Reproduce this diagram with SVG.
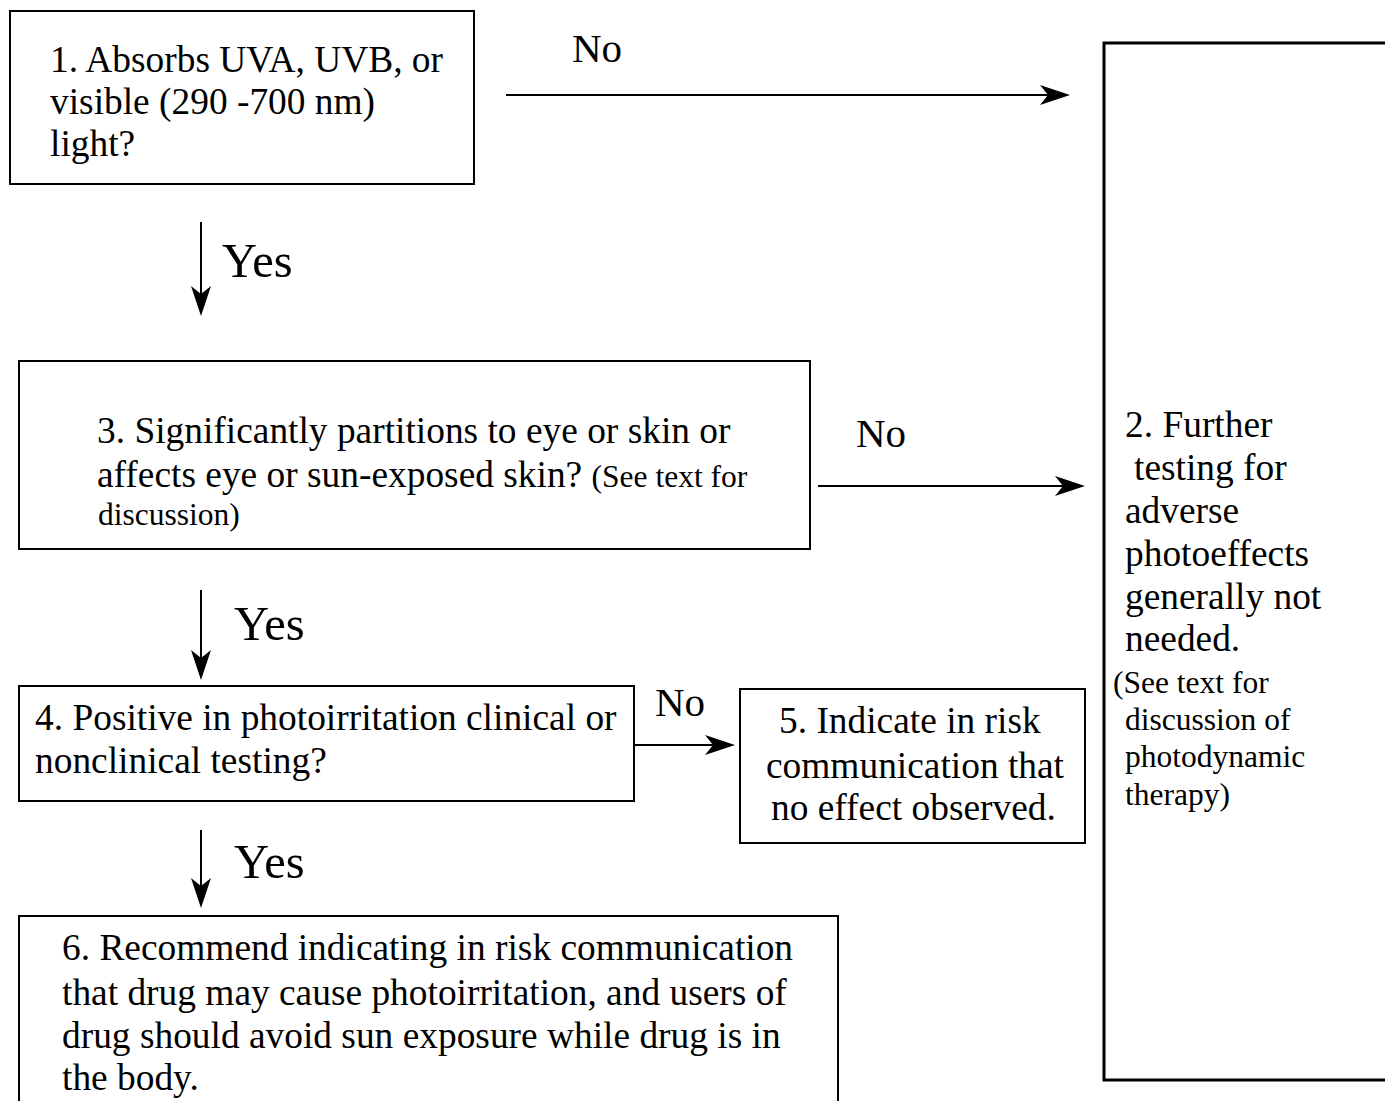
<svg xmlns="http://www.w3.org/2000/svg" width="1385" height="1101" viewBox="0 0 1385 1101">
<style>
.box{fill:#fff;stroke:#000;stroke-width:2}
.big{stroke-width:3}
.t{font-family:"Liberation Serif","Times New Roman",serif;font-size:37.4px;fill:#000}
.s{font-size:31.5px}
.lbl{font-family:"Liberation Serif","Times New Roman",serif;font-size:41px;fill:#000}
.yes{font-size:48.5px}
.c{fill:none;stroke:#000;stroke-width:2}
</style>
<defs>
<marker id="ah" markerUnits="userSpaceOnUse" viewBox="0 0 30 20" markerWidth="30" markerHeight="20" refX="22" refY="10" orient="auto">
<path d="M0,0 L30,10 L0,20 L8,10 Z" fill="#000"/>
</marker>
</defs>
<rect width="1385" height="1101" fill="#fff"/>
<g id="connectors">
<line class="c" x1="506" y1="95" x2="1062" y2="95" marker-end="url(#ah)"/>
<line class="c" x1="201" y1="222" x2="201" y2="308" marker-end="url(#ah)"/>
<line class="c" x1="818" y1="486" x2="1077" y2="486" marker-end="url(#ah)"/>
<line class="c" x1="201" y1="590" x2="201" y2="672" marker-end="url(#ah)"/>
<line class="c" x1="634" y1="745" x2="727" y2="745" marker-end="url(#ah)"/>
<line class="c" x1="201" y1="830" x2="201" y2="900" marker-end="url(#ah)"/>
<text class="lbl" x="572" y="62">No</text>
<text class="lbl yes" x="222" y="277">Yes</text>
<text class="lbl" x="856" y="447">No</text>
<text class="lbl yes" x="234" y="640">Yes</text>
<text class="lbl" x="655" y="716">No</text>
<text class="lbl yes" x="234" y="878">Yes</text>
</g>
<g id="node1">
<rect class="box" x="10" y="11" width="464" height="173"/>
<text class="t" x="50" y="72">1. Absorbs UVA, UVB, or</text>
<text class="t" x="50" y="114">visible (290 -700 nm)</text>
<text class="t" x="50" y="156">light?</text>
</g>
<g id="node2">
<rect class="box big" x="1104" y="43" width="400" height="1037"/>
<text class="t" x="1125" y="437">2. Further</text>
<text class="t" x="1134" y="480">testing for</text>
<text class="t" x="1125" y="523">adverse</text>
<text class="t" x="1125" y="566">photoeffects</text>
<text class="t" x="1125" y="609">generally not</text>
<text class="t" x="1125" y="651">needed.</text>
<text class="t s" x="1113" y="693">(See text for</text>
<text class="t s" x="1125" y="730">discussion of</text>
<text class="t s" x="1125" y="767">photodynamic</text>
<text class="t s" x="1125" y="805">therapy)</text>
</g>
<g id="node3">
<rect class="box" x="19" y="361" width="791" height="188"/>
<text class="t" x="97" y="443">3. Significantly partitions to eye or skin or</text>
<text class="t" x="97" y="487">affects eye or sun-exposed skin? <tspan class="s">(See text for</tspan></text>
<text class="t s" x="98" y="525">discussion)</text>
</g>
<g id="node4">
<rect class="box" x="19" y="686" width="615" height="115"/>
<text class="t" x="35" y="730">4. Positive in photoirritation clinical or</text>
<text class="t" x="35" y="773">nonclinical testing?</text>
</g>
<g id="node5">
<rect class="box" x="740" y="689" width="345" height="154"/>
<text class="t" x="779" y="733">5. Indicate in risk</text>
<text class="t" x="766" y="778">communication that</text>
<text class="t" x="771" y="820">no effect observed.</text>
</g>
<g id="node6">
<rect class="box" x="19" y="916" width="819" height="200"/>
<text class="t" x="62" y="960">6. Recommend indicating in risk communication</text>
<text class="t" x="62" y="1005">that drug may cause photoirritation, and users of</text>
<text class="t" x="62" y="1048">drug should avoid sun exposure while drug is in</text>
<text class="t" x="62" y="1090">the body.</text>
</g>
</svg>
